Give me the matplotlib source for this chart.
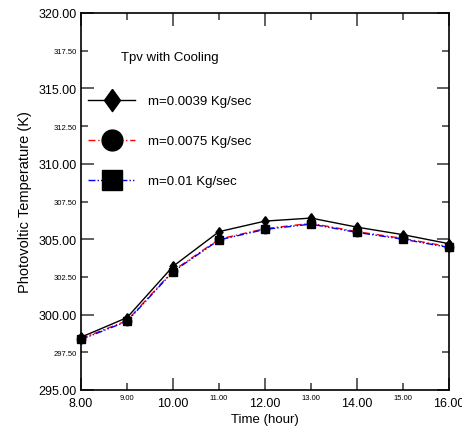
import numpy as np
import matplotlib.pyplot as plt
from matplotlib.lines import Line2D
from matplotlib.ticker import MultipleLocator, FormatStrFormatter

plt.rcParams['font.family'] = ['Liberation Sans Narrow', 'Liberation Sans', 'DejaVu Sans']

# hourly photovoltaic temperature for three coolant flow rates
hours = [8, 9, 10, 11, 12, 13, 14, 15, 16]
t_0039 = [298.5, 299.8, 303.2, 305.5, 306.2, 306.4, 305.8, 305.3, 304.7]
t_0075 = [298.4, 299.6, 302.9, 305.0, 305.7, 306.05, 305.5, 305.05, 304.5]
t_001 = [298.35, 299.55, 302.85, 304.95, 305.65, 306.0, 305.45, 305.0, 304.45]

labels = ['m=0.0039 Kg/sec', 'm=0.0075 Kg/sec', 'm=0.01 Kg/sec']

# tall diamond marker
diamond = [(0, 1), (0.72, 0), (0, -1), (-0.72, 0), (0, 1)]

fig = plt.figure(figsize=(4.62, 4.27), dpi=100)
ax = fig.add_axes([81 / 462, 36 / 427, 368 / 462, 377 / 427])

ax.plot(hours, t_0039, color='black', lw=1.0, ls='-', marker=diamond,
        ms=7, mfc='black', mec='black', clip_on=False, zorder=3)
ax.plot(hours, t_0075, color='red', lw=1.0, ls=(0, (5, 2, 1, 2)), marker='o',
        ms=6, mfc='black', mec='black', clip_on=False, zorder=3)
ax.plot(hours, t_001, color='blue', lw=1.0, ls=(0, (5, 1.5, 1, 1.5, 1, 1.5)), marker='s',
        ms=6, mfc='black', mec='black', clip_on=False, zorder=3)

ax.set_xlim(8, 16)
ax.set_ylim(295, 320)

ax.xaxis.set_major_locator(MultipleLocator(2))
ax.xaxis.set_minor_locator(MultipleLocator(1))
ax.yaxis.set_major_locator(MultipleLocator(5))
ax.yaxis.set_minor_locator(MultipleLocator(2.5))
for a in (ax.xaxis, ax.yaxis):
    a.set_major_formatter(FormatStrFormatter('%.2f'))
    a.set_minor_formatter(FormatStrFormatter('%.2f'))

ax.tick_params(which='both', direction='in', top=True, right=True, color='#444444')
ax.tick_params(which='major', length=9, width=1.2, labelsize=9, pad=3)
ax.tick_params(which='minor', length=5, width=1.2, labelsize=5.5, pad=3)
ax.tick_params(axis='x', which='major', pad=5)
for s in ax.spines.values():
    s.set_linewidth(1.2)

ax.set_xlabel('Time (hour)', fontsize=9.5, labelpad=3)
ax.set_ylabel('Photovoltic Temperature (K)', fontsize=10.5, labelpad=5)

handles = [
    Line2D([], [], color='black', lw=1.0, ls='-', marker=diamond, ms=16, mfc='black', mec='black'),
    Line2D([], [], color='red', lw=1.0, ls=(0, (5, 2, 1, 2)), marker='o', ms=15, mfc='black', mec='black'),
    Line2D([], [], color='blue', lw=1.0, ls=(0, (5, 1.5, 1, 1.5, 1, 1.5)), marker='s', ms=15, mfc='black', mec='black'),
]
leg = ax.legend(handles, labels, title='Tpv with Cooling', loc='upper left',
                bbox_to_anchor=(-0.012, 0.93), frameon=False, fontsize=9.5,
                title_fontsize=9.5, handlelength=3.5, handletextpad=1.0,
                labelspacing=2.1, borderpad=0.4)
leg._legend_box.sep = 23

fig.savefig('out.png', dpi=100)
